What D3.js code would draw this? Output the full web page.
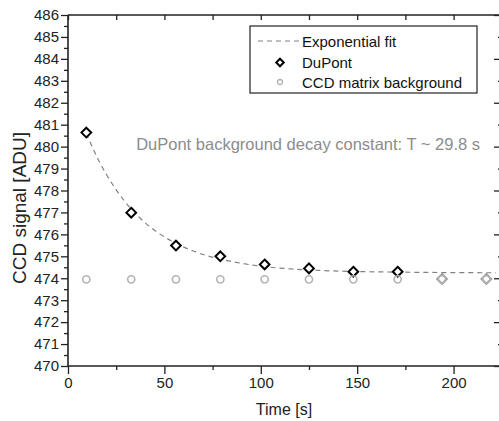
<!DOCTYPE html>
<html>
<head>
<meta charset="utf-8">
<script src="https://cdn.jsdelivr.net/npm/d3@7"></script>
<style>
  html, body { margin: 0; padding: 0; background: #fff; }
  svg { display: block; font-family: "Liberation Sans", Arial, sans-serif; }
</style>
</head>
<body>
<svg id="chart" width="499" height="421"></svg>
<script>
// ---- data ----
const times = [9.5, 32.8, 56, 79, 102, 125, 148, 171, 194, 217];
const dupont = [480.64, 476.99, 475.49, 475.0, 474.63, 474.45, 474.3, 474.3, 473.97, 473.97];
const background = [473.95, 473.95, 473.95, 473.95, 473.95, 473.95, 473.95, 473.95, 473.95, 473.95];
const fitT = [9.5, 15, 20, 25, 33, 40, 48, 56, 65, 79, 90, 102, 125, 148, 171, 194, 222];
const fitY = [480.6, 479.53, 478.72, 478.03, 477.14, 476.53, 476.0, 475.59, 475.24, 474.87, 474.68, 474.53, 474.38, 474.31, 474.28, 474.26, 474.25];
const xTicks = [0, 50, 100, 150, 200];
const yTicks = [470, 471, 472, 473, 474, 475, 476, 477, 478, 479, 480, 481, 482, 483, 484, 485, 486];
const legendLabels = ["Exponential fit", "DuPont", "CCD matrix background"];
const annotation = "DuPont background decay constant: T ~ 29.8 s";
const xTitle = "Time [s]";
const yTitle = "CCD signal [ADU]";

// ---- layout ----
const svg = d3.select("#chart");
const L = 68, R = 501, T = 15, B = 366;
const x = d3.scaleLinear().domain([0, 224.6]).range([L, R]);
const y = d3.scaleLinear().domain([470, 486]).range([B, T]);
const axisColor = "#222";

// bottom axis major
svg.append("g").attr("transform", `translate(0,${B})`)
  .call(d3.axisBottom(x).tickValues(xTicks).tickSize(8).tickPadding(3).tickFormat(d3.format("d")))
  .call(g => { g.select(".domain").remove(); g.selectAll("line").attr("stroke", axisColor).attr("stroke-width", 1.3);
    g.selectAll("text").attr("font-size", 15).attr("fill", "#222"); });
// bottom minor
svg.append("g").attr("transform", `translate(0,${B})`)
  .call(d3.axisBottom(x).tickValues([25, 75, 125, 175]).tickSize(4).tickFormat(""))
  .call(g => { g.select(".domain").remove(); g.selectAll("line").attr("stroke", axisColor).attr("stroke-width", 1.3); });
// top ticks (inward)
svg.append("g").attr("transform", `translate(0,${T})`)
  .call(d3.axisBottom(x).tickValues(d3.range(0, 224.6, 25)).tickSize(5).tickFormat(""))
  .call(g => { g.select(".domain").remove(); g.selectAll("line").attr("stroke", axisColor).attr("stroke-width", 1.3); });

// left axis major
svg.append("g").attr("transform", `translate(${L},0)`)
  .call(d3.axisLeft(y).tickValues(yTicks).tickSize(7).tickPadding(2).tickFormat(d3.format("d")))
  .call(g => { g.select(".domain").remove(); g.selectAll("line").attr("stroke", axisColor).attr("stroke-width", 1.3);
    g.selectAll("text").attr("font-size", 15).attr("fill", "#222"); });
// left minor
svg.append("g").attr("transform", `translate(${L},0)`)
  .call(d3.axisLeft(y).tickValues(yTicks.slice(0, -1).map(v => v + 0.5)).tickSize(4).tickFormat(""))
  .call(g => { g.select(".domain").remove(); g.selectAll("line").attr("stroke", axisColor).attr("stroke-width", 1.3); });
// right ticks inward
svg.append("g").attr("transform", `translate(${R},0)`)
  .call(d3.axisLeft(y).tickValues(yTicks.filter(v => v % 2 === 0)).tickSize(7).tickFormat(""))
  .call(g => { g.select(".domain").remove(); g.selectAll("line").attr("stroke", axisColor).attr("stroke-width", 1.3); });
svg.append("g").attr("transform", `translate(${R},0)`)
  .call(d3.axisLeft(y).tickValues(yTicks.filter(v => v % 2 === 1)).tickSize(3).tickFormat(""))
  .call(g => { g.select(".domain").remove(); g.selectAll("line").attr("stroke", axisColor).attr("stroke-width", 1.3); });

// frame lines
svg.append("line").attr("x1", L).attr("x2", L).attr("y1", T).attr("y2", B).attr("stroke", axisColor).attr("stroke-width", 1.6);
svg.append("line").attr("x1", L).attr("x2", R).attr("y1", B).attr("y2", B).attr("stroke", axisColor).attr("stroke-width", 1.6);
svg.append("line").attr("x1", L).attr("x2", R).attr("y1", T).attr("y2", T).attr("stroke", axisColor).attr("stroke-width", 1.6);

// axis titles
svg.append("text").attr("x", 284).attr("y", 415).attr("text-anchor", "middle")
  .attr("font-size", 16).attr("fill", "#222").text(xTitle);
svg.append("text").attr("transform", `translate(25.5,208) rotate(-90)`).attr("text-anchor", "middle")
  .attr("font-size", 19).attr("fill", "#222").text(yTitle);

// fit line
const fitData = fitT.map((t, i) => [t, fitY[i]]);
svg.append("path").datum(fitData)
  .attr("d", d3.line().x(d => x(d[0])).y(d => y(d[1])).curve(d3.curveMonotoneX))
  .attr("fill", "none").attr("stroke", "#808080").attr("stroke-width", 1.2).attr("stroke-dasharray", "5,4");

// DuPont diamonds
const dsym = d3.symbol().type(d3.symbolDiamond2).size(60);
svg.append("g").selectAll("path").data(times.map((t, i) => [t, dupont[i], background[i]])).join("path")
  .attr("transform", d => `translate(${x(d[0])},${y(d[1])})`)
  .attr("d", dsym)
  .attr("fill", "#fff")
  .attr("stroke", d => Math.abs(d[1] - d[2]) < 0.1 ? "#9a9a9a" : "#000")
  .attr("stroke-width", 2);

// background circles
svg.append("g").selectAll("circle").data(times.map((t, i) => [t, background[i]])).join("circle")
  .attr("cx", d => x(d[0])).attr("cy", d => y(d[1])).attr("r", 3.6)
  .attr("fill", "none").attr("stroke", "#b4b4b4").attr("stroke-width", 1.6);

// annotation
svg.append("text").attr("x", 480).attr("y", 149.5).attr("text-anchor", "end")
  .attr("font-size", 16.5).attr("fill", "#8c8c8c").text(annotation);

// legend
svg.append("rect").attr("x", 250).attr("y", 26).attr("width", 227).attr("height", 67)
  .attr("fill", "#fff").attr("stroke", "#222").attr("stroke-width", 1.2);
svg.append("line").attr("x1", 258).attr("x2", 299).attr("y1", 41).attr("y2", 41)
  .attr("stroke", "#808080").attr("stroke-width", 1.2).attr("stroke-dasharray", "5,4");
svg.append("path").attr("transform", "translate(280,62.5)").attr("d", d3.symbol().type(d3.symbolDiamond2).size(36))
  .attr("fill", "#fff").attr("stroke", "#000").attr("stroke-width", 2);
svg.append("circle").attr("cx", 280).attr("cy", 82).attr("r", 2.5)
  .attr("fill", "none").attr("stroke", "#b4b4b4").attr("stroke-width", 1.3);
const ly = [41, 62.5, 82];
svg.append("g").selectAll("text").data(legendLabels).join("text")
  .attr("x", 302).attr("y", (d, i) => ly[i] + 5.5)
  .attr("font-size", 15).attr("fill", "#111").text(d => d);
</script>
</body>
</html>
